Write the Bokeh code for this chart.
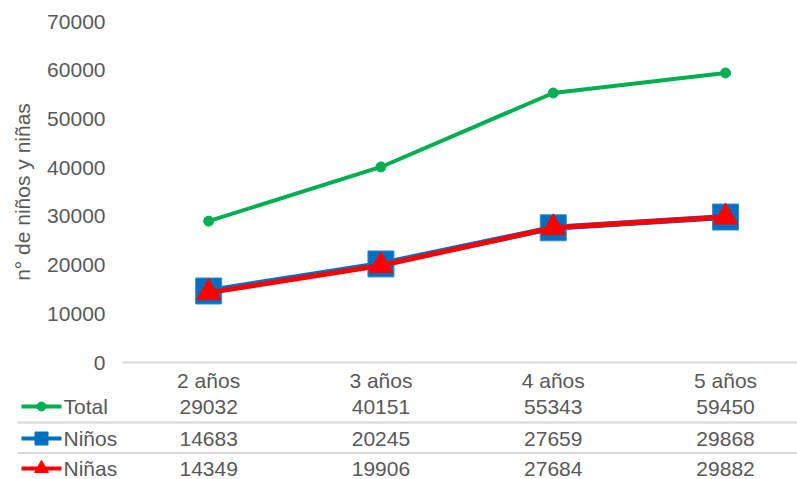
from bokeh.plotting import figure
from bokeh.models import Range1d, FixedTicker
from bokeh.core.properties import value
from bokeh.embed import file_html
from bokeh.resources import INLINE

# ---- data ----
categories = ["2 años", "3 años", "4 años", "5 años"]
total = [29032, 40151, 55343, 59450]
ninos = [14683, 20245, 27659, 29868]
ninas = [14349, 19906, 27684, 29882]
series_names = ["Total", "Niños", "Niñas"]
y_ticks = [0, 10000, 20000, 30000, 40000, 50000, 60000, 70000]
y_title = "n° de niños y niñas"

# ---- style / layout ----
FONT = "Liberation Sans"
TXT = "#595959"
GREEN = "#00B050"
BLUE = "#0070C0"
RED = "#FF0000"
GRID = "#D9D9D9"
FS = "21px"
W = 797
H = 479
LEFT = 122          # px from figure left to first category boundary
PX_CAT = 172.3      # px per category
ZERO_PX = 362       # px from figure top to value 0
PX_PER_UNIT = 0.00487

x_idx = list(range(len(categories)))
x0 = -0.5 - LEFT / PX_CAT
x_end = (W - LEFT) / PX_CAT - 0.5
y_top = ZERO_PX / PX_PER_UNIT
y_bot = -(H - ZERO_PX) / PX_PER_UNIT


def px_below_zero(px):
    return -px / PX_PER_UNIT


p = figure(width=W, height=H, x_range=Range1d(x0, x_end), y_range=Range1d(y_bot, y_top),
           output_backend="svg", toolbar_location=None, min_border=0,
           min_border_left=0, min_border_right=0, min_border_top=0, min_border_bottom=0)
p.outline_line_color = None
p.xgrid.grid_line_color = None
p.ygrid.grid_line_color = None

# y axis fixed at the left edge of the first category
p.yaxis.fixed_location = -0.5
p.yaxis.bounds = (0, y_ticks[-1])
p.yaxis.ticker = FixedTicker(ticks=y_ticks)
p.yaxis.axis_line_color = None
p.yaxis.major_tick_line_color = None
p.yaxis.minor_tick_line_color = None
p.yaxis.major_tick_out = 0
p.yaxis.major_tick_in = 0
p.yaxis.major_label_standoff = 17
p.yaxis.major_label_text_font = FONT
p.yaxis.major_label_text_font_size = FS
p.yaxis.major_label_text_color = TXT
p.yaxis.axis_label = y_title
p.yaxis.axis_label_text_font = FONT
p.yaxis.axis_label_text_font_size = FS
p.yaxis.axis_label_text_font_style = "normal"
p.yaxis.axis_label_text_color = TXT
p.yaxis.axis_label_standoff = 10

# x axis fixed at value 0
p.xaxis.fixed_location = 0
p.xaxis.bounds = (-0.5, x_end)
p.xaxis.ticker = FixedTicker(ticks=x_idx)
p.xaxis.major_label_overrides = {i: c for i, c in zip(x_idx, categories)}
p.xaxis.axis_line_color = GRID
p.xaxis.axis_line_width = 2
p.xaxis.major_tick_line_color = None
p.xaxis.minor_tick_line_color = None
p.xaxis.major_tick_out = 0
p.xaxis.major_tick_in = 0
p.xaxis.major_label_standoff = 6
p.xaxis.major_label_text_font = FONT
p.xaxis.major_label_text_font_size = FS
p.xaxis.major_label_text_color = TXT

# series
p.line(x_idx, total, line_color=GREEN, line_width=4)
p.scatter(x_idx, total, marker="circle", size=10, fill_color=GREEN, line_color=GREEN)
p.line(x_idx, ninos, line_color=BLUE, line_width=6)
p.scatter(x_idx, ninos, marker="square", size=26, fill_color=BLUE, line_color="#3A8AD0")
p.line(x_idx, ninas, line_color=RED, line_width=5)
p.scatter(x_idx, ninas, marker="triangle", size=24, fill_color=RED, line_color=RED)

# ---- data table below the axis ----
row_off = [44, 76, 106]     # px below the zero line
sep_off = [60, 90.5]
row_y = [px_below_zero(v) for v in row_off]
sep_y = [px_below_zero(v) for v in sep_off]
series_vals = [total, ninos, ninas]
series_colors = [GREEN, BLUE, RED]
series_markers = ["circle", "square", "triangle"]
marker_sizes = [9, 13, 14]

p.segment(x0=[x0 + 17 / PX_CAT] * len(sep_y), x1=[x_end] * len(sep_y), y0=sep_y, y1=sep_y,
          line_color=GRID, line_width=2)

key_x0 = x0 + 21 / PX_CAT
key_x1 = x0 + 61 / PX_CAT
key_xm = (key_x0 + key_x1) / 2
lab_x = x0 + 63 / PX_CAT
for name, vals, col, mk, ms, yy in zip(series_names, series_vals, series_colors, series_markers,
                                       marker_sizes, row_y):
    p.segment(x0=[key_x0], x1=[key_x1], y0=[yy], y1=[yy], line_color=col, line_width=4)
    p.scatter(x=[key_xm], y=[yy], marker=mk, size=ms, fill_color=col, line_color=col)
    p.text(x=[lab_x], y=[yy], text=[name], text_font=value(FONT), text_font_size=FS,
           text_color=TXT, text_align="left", text_baseline="middle")
    p.text(x=x_idx, y=[yy] * len(vals), text=[str(v) for v in vals], text_font=value(FONT),
           text_font_size=FS, text_color=TXT, text_align="center", text_baseline="middle")

open("out.html", "w").write(file_html(p, INLINE))
